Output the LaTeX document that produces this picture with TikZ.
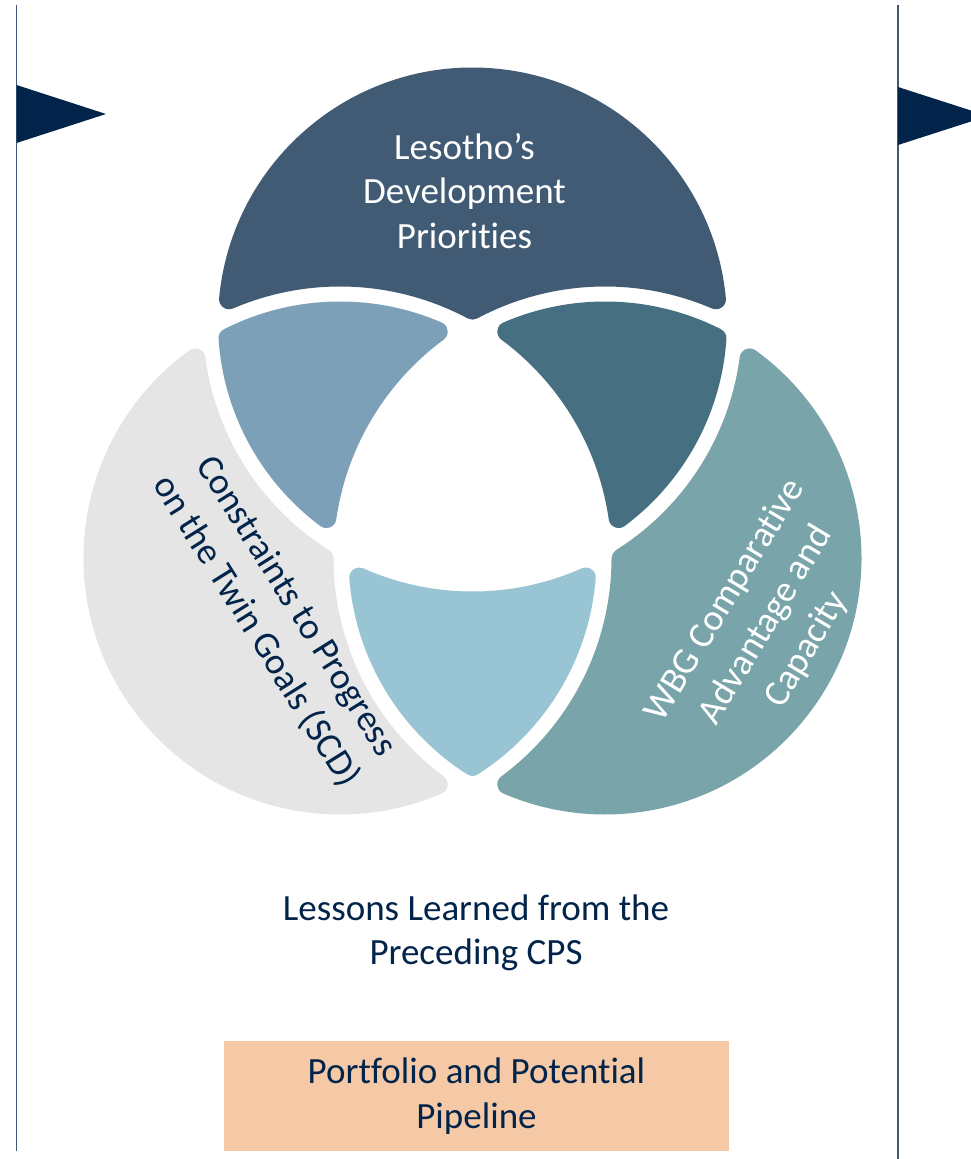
\documentclass[tikz,border=0pt]{standalone}
\usepackage{fontspec}
\setmainfont{Carlito}[Ligatures={NoCommon,TeX}]
\definecolor{topc}{HTML}{415B75}
\definecolor{tlc}{HTML}{7BA0B8}
\definecolor{trc}{HTML}{466F81}
\definecolor{lc}{HTML}{E5E5E5}
\definecolor{rc}{HTML}{79A5AA}
\definecolor{bc}{HTML}{98C4D4}
\definecolor{navy}{HTML}{02244A}
\definecolor{linec}{HTML}{3E5A78}
\definecolor{orangec}{HTML}{F5C9A6}
\newcommand{\diafont}{\fontsize{37}{44.5}\selectfont}
\newcommand{\rotfont}{\fontsize{37}{47.5}\selectfont}
% point storage
\newcommand{\setpt}[3]{\expandafter\xdef\csname P#1x\endcsname{#2}\expandafter\xdef\csname P#1y\endcsname{#3}}
\newcommand{\getx}[1]{\csname P#1x\endcsname}
\newcommand{\gety}[1]{\csname P#1y\endcsname}
% intersection of two circles: name, x1,y1,r1, x2,y2,r2, side
\newcommand{\CI}[8]{%
  \pgfmathsetmacro{\ciXa}{(#2)/100}\pgfmathsetmacro{\ciYa}{(#3)/100}\pgfmathsetmacro{\ciRa}{(#4)/100}%
  \pgfmathsetmacro{\ciXb}{(#5)/100}\pgfmathsetmacro{\ciYb}{(#6)/100}\pgfmathsetmacro{\ciRb}{(#7)/100}%
  \pgfmathsetmacro{\ciDx}{\ciXb-\ciXa}%
  \pgfmathsetmacro{\ciDy}{\ciYb-\ciYa}%
  \pgfmathsetmacro{\ciD}{sqrt(\ciDx*\ciDx+\ciDy*\ciDy)}%
  \pgfmathsetmacro{\ciA}{(\ciRa*\ciRa-\ciRb*\ciRb+\ciD*\ciD)/(2*\ciD)}%
  \pgfmathsetmacro{\ciH}{sqrt(\ciRa*\ciRa-\ciA*\ciA)}%
  \pgfmathsetmacro{\ciX}{100*(\ciXa+(\ciA*\ciDx-(#8)*\ciH*\ciDy)/\ciD)}%
  \pgfmathsetmacro{\ciY}{100*(\ciYa+(\ciA*\ciDy+(#8)*\ciH*\ciDx)/\ciD)}%
  \setpt{#1}{\ciX}{\ciY}%
}
% arc angles: id, cx, cy, from, to, dir
\newcommand{\mkarc}[6]{%
  \pgfmathsetmacro{\tmpa}{atan2(\gety{#4}-(#3),\getx{#4}-(#2))}%
  \pgfmathsetmacro{\tmpb}{atan2(\gety{#5}-(#3),\getx{#5}-(#2))}%
  \ifnum#6>0\relax
    \pgfmathsetmacro{\tmpb}{\tmpb<\tmpa ? \tmpb+360 : \tmpb}%
  \else
    \pgfmathsetmacro{\tmpb}{\tmpb>\tmpa ? \tmpb-360 : \tmpb}%
  \fi
  \expandafter\xdef\csname S#1\endcsname{\tmpa}%
  \expandafter\xdef\csname E#1\endcsname{\tmpb}%
}
\newcommand{\regionfill}[5]{%
  \edef\rgtmp{\noexpand\filldraw[fill=#1,draw=#1,line width=20pt,line join=round]
    (\getx{#2},\gety{#2})
    arc[start angle=\csname S1\endcsname,end angle=\csname E1\endcsname,radius=#3]
    arc[start angle=\csname S2\endcsname,end angle=\csname E2\endcsname,radius=#4]
    arc[start angle=\csname S3\endcsname,end angle=\csname E3\endcsname,radius=#5]
    -- cycle;}%
  \rgtmp}
\def\Tx{472.5}\def\Ty{322}\def\rT{262}
\def\Lx{340}\def\Ly{558}\def\rL{264}
\def\Rx{605}\def\Ry{558}\def\rR{264}
\def\dl{17.5}
\tikzset{
  lbl/.style={font=\diafont, align=center, inner sep=0pt},
  rlbl/.style={font=\rotfont, align=center, inner sep=0pt},
  vline/.style={draw=linec, line width=1.6pt},
  flag/.style={fill=navy}
}
\begin{document}
\begin{tikzpicture}[x=1pt,y=-1pt]
\useasboundingbox (0,0) rectangle (971,1159);
\fill[white] (0,0) rectangle (971,1159);
\begin{scope}
\clip (0,0) rectangle (971,1159);
\pgfmathsetmacro{\rTm}{\rT-\dl}\pgfmathsetmacro{\rTp}{\rT+\dl}
\pgfmathsetmacro{\rLm}{\rL-\dl}\pgfmathsetmacro{\rLp}{\rL+\dl}
\pgfmathsetmacro{\rRm}{\rR-\dl}\pgfmathsetmacro{\rRp}{\rR+\dl}
% top only
\CI{a1}{\Tx}{\Ty}{\rTm}{\Lx}{\Ly}{\rLp}{1}
\CI{a2}{\Tx}{\Ty}{\rTm}{\Rx}{\Ry}{\rRp}{-1}
\CI{a3}{\Lx}{\Ly}{\rLp}{\Rx}{\Ry}{\rRp}{-1}
\mkarc{1}{\Tx}{\Ty}{a1}{a2}{1}
\mkarc{2}{\Rx}{\Ry}{a2}{a3}{-1}
\mkarc{3}{\Lx}{\Ly}{a3}{a1}{-1}
\regionfill{topc}{a1}{\rTm}{\rRp}{\rLp}
% top-left
\CI{b1}{\Tx}{\Ty}{\rTm}{\Lx}{\Ly}{\rLm}{1}
\CI{b2}{\Lx}{\Ly}{\rLm}{\Rx}{\Ry}{\rRp}{-1}
\CI{b3}{\Tx}{\Ty}{\rTm}{\Rx}{\Ry}{\rRp}{1}
\mkarc{1}{\Lx}{\Ly}{b1}{b2}{1}
\mkarc{2}{\Rx}{\Ry}{b2}{b3}{-1}
\mkarc{3}{\Tx}{\Ty}{b3}{b1}{1}
\regionfill{tlc}{b1}{\rLm}{\rRp}{\rTm}
% top-right
\CI{c1}{\Tx}{\Ty}{\rTm}{\Rx}{\Ry}{\rRm}{-1}
\CI{c2}{\Lx}{\Ly}{\rLp}{\Rx}{\Ry}{\rRm}{-1}
\CI{c3}{\Tx}{\Ty}{\rTm}{\Lx}{\Ly}{\rLp}{-1}
\mkarc{1}{\Rx}{\Ry}{c1}{c2}{-1}
\mkarc{2}{\Lx}{\Ly}{c2}{c3}{1}
\mkarc{3}{\Tx}{\Ty}{c3}{c1}{-1}
\regionfill{trc}{c1}{\rRm}{\rLp}{\rTm}
% left only
\CI{d1}{\Tx}{\Ty}{\rTp}{\Lx}{\Ly}{\rLm}{1}
\CI{d2}{\Lx}{\Ly}{\rLm}{\Rx}{\Ry}{\rRp}{1}
\CI{d3}{\Tx}{\Ty}{\rTp}{\Rx}{\Ry}{\rRp}{1}
\mkarc{1}{\Lx}{\Ly}{d1}{d2}{-1}
\mkarc{2}{\Rx}{\Ry}{d2}{d3}{1}
\mkarc{3}{\Tx}{\Ty}{d3}{d1}{1}
\regionfill{lc}{d1}{\rLm}{\rRp}{\rTp}
% right only
\CI{e1}{\Tx}{\Ty}{\rTp}{\Rx}{\Ry}{\rRm}{-1}
\CI{e2}{\Lx}{\Ly}{\rLp}{\Rx}{\Ry}{\rRm}{1}
\CI{e3}{\Tx}{\Ty}{\rTp}{\Lx}{\Ly}{\rLp}{-1}
\mkarc{1}{\Rx}{\Ry}{e1}{e2}{1}
\mkarc{2}{\Lx}{\Ly}{e2}{e3}{-1}
\mkarc{3}{\Tx}{\Ty}{e3}{e1}{-1}
\regionfill{rc}{e1}{\rRm}{\rLp}{\rTp}
% bottom (left and right)
\CI{f1}{\Tx}{\Ty}{\rTp}{\Rx}{\Ry}{\rRm}{1}
\CI{f2}{\Tx}{\Ty}{\rTp}{\Lx}{\Ly}{\rLm}{-1}
\CI{f3}{\Lx}{\Ly}{\rLm}{\Rx}{\Ry}{\rRm}{1}
\mkarc{1}{\Tx}{\Ty}{f1}{f2}{-1}
\mkarc{2}{\Lx}{\Ly}{f2}{f3}{1}
\mkarc{3}{\Rx}{\Ry}{f3}{f1}{1}
\regionfill{bc}{f1}{\rTp}{\rLm}{\rRm}
% frame lines and flags
\draw[vline] (16.5,5) -- (16.5,1151);
\draw[vline] (898,5) -- (898,1159);
\fill[flag] (16.5,85) -- (106,114) -- (16.5,143) -- cycle;
\fill[flag] (898,87) -- (988,116) -- (898,145) -- cycle;
\end{scope}
% labels
\node[lbl, text=white] (dev) at (464.5,191) {Lesotho’s\\Development\\Priorities};
\node[rlbl, text=navy, rotate=-58] (scd) at (276,619) {Constraints to Progress\\on the Twin Goals (SCD)};
\node[rlbl, text=white, rotate=59] (wbg) at (766,625) {WBG Comparative\\Advantage and\\Capacity};
\node[lbl, text=navy] (lessons) at (476,933) {Lessons Learned from the\\Preceding CPS};
\node[lbl, text=navy, fill=orangec, minimum width=505pt, minimum height=110pt] (pipe) at (476.5,1096) {Portfolio and Potential\\Pipeline};
\end{tikzpicture}
\end{document}
